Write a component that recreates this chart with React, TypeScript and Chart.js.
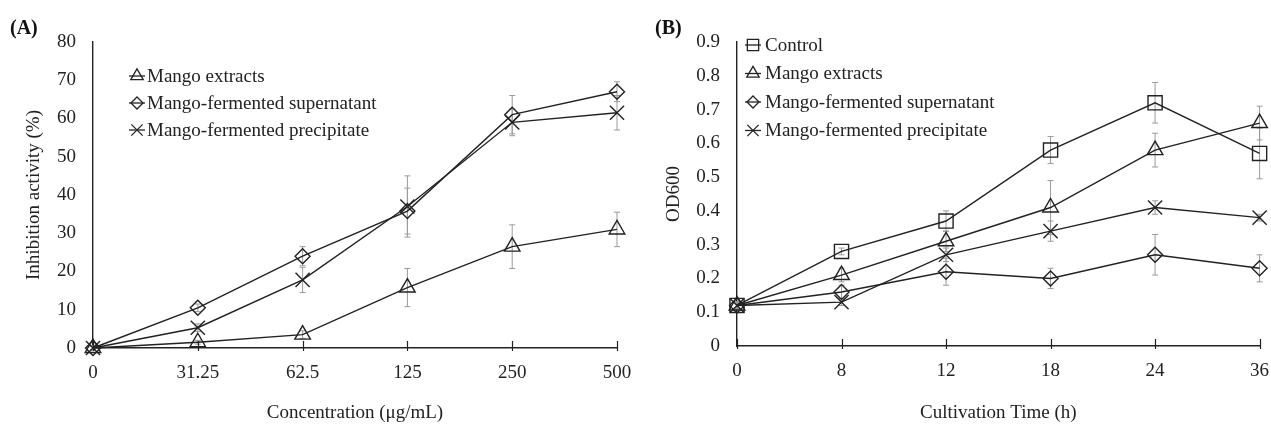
import React, { useEffect, useRef } from 'react';
import { Chart, registerables } from 'chart.js';
import { drawPoint } from 'chart.js/helpers';

Chart.register(...registerables);

// ---------- Data ----------
const concLabels = ['0', '31.25', '62.5', '125', '250', '500'];
const extractsA = [0, 1.5, 3.5, 15.8, 26.5, 31];
const extractsAErr = [0.5, 0.5, 1, 5, 5.7, 4.5];
const supernatantA = [0, 10.5, 24, 35.8, 61, 67];
const supernatantAErr = [0.5, 1, 2.5, 6, 5, 2.6];
const precipitateA = [0, 5.3, 17.8, 37, 59, 61.5];
const precipitateAErr = [0.5, 1, 3.3, 8, 3.5, 4.5];

const timeLabels = ['0', '8', '12', '18', '24', '36'];
const controlB = [0.12, 0.28, 0.37, 0.58, 0.72, 0.57];
const controlBErr = [0.01, 0.01, 0.03, 0.04, 0.06, 0.075];
const extractsB = [0.12, 0.21, 0.31, 0.41, 0.58, 0.66];
const extractsBErr = [0.01, 0.02, 0.03, 0.08, 0.05, 0.05];
const supernatantB = [0.12, 0.16, 0.22, 0.2, 0.27, 0.23];
const supernatantBErr = [0.01, 0.02, 0.04, 0.03, 0.06, 0.04];
const precipitateB = [0.12, 0.13, 0.27, 0.34, 0.41, 0.38];
const precipitateBErr = [0.01, 0.01, 0.02, 0.03, 0.02, 0.01];

// ---------- Styles ----------
const FAMILY = "'Liberation Serif', 'Times New Roman', serif";
const FONT = { family: FAMILY, size: 19 };
const INK = '#222';
const ERR = '#9a9a9a';

const styleFor: Record<string, { pointStyle: string; pointRadius: number }> = {
  Control: { pointStyle: 'rect', pointRadius: 10 },
  'Mango extracts': { pointStyle: 'triangle', pointRadius: 9 },
  'Mango-fermented supernatant': { pointStyle: 'rectRot', pointRadius: 7.5 },
  'Mango-fermented precipitate': { pointStyle: 'crossRot', pointRadius: 10 },
};

function makeDataset(label: string, data: number[], errors: number[]) {
  const s = styleFor[label];
  return {
    label,
    data,
    errors,
    borderColor: INK,
    borderWidth: 1.4,
    backgroundColor: 'rgba(0,0,0,0)',
    pointStyle: s.pointStyle,
    pointRadius: s.pointRadius,
    pointBorderColor: INK,
    pointBackgroundColor: 'rgba(0,0,0,0)',
    pointBorderWidth: 1.4,
    tension: 0,
    clip: false,
    fill: false,
  };
}

// ---------- Plugins ----------
const errorBarPlugin = {
  id: 'errorBars',
  beforeDatasetsDraw(chart: any) {
    const ctx = chart.ctx;
    const ys = chart.scales.y;
    ctx.save();
    ctx.strokeStyle = ERR;
    ctx.lineWidth = 1;
    chart.data.datasets.forEach((ds: any, i: number) => {
      const meta = chart.getDatasetMeta(i);
      (ds.errors || []).forEach((e: number, j: number) => {
        const pt = meta.data[j];
        if (!pt) return;
        const v = ds.data[j];
        const yt = ys.getPixelForValue(v + e);
        const yb = ys.getPixelForValue(v - e);
        ctx.beginPath();
        ctx.moveTo(pt.x, yt);
        ctx.lineTo(pt.x, yb);
        ctx.moveTo(pt.x - 3, yt);
        ctx.lineTo(pt.x + 3, yt);
        ctx.moveTo(pt.x - 3, yb);
        ctx.lineTo(pt.x + 3, yb);
        ctx.stroke();
      });
    });
    ctx.restore();
  },
};

const tickMarkPlugin = {
  id: 'crossTicks',
  afterDraw(chart: any) {
    const ctx = chart.ctx;
    const xs = chart.scales.x;
    const yb = chart.chartArea.bottom;
    ctx.save();
    ctx.strokeStyle = INK;
    ctx.lineWidth = 1.2;
    xs.ticks.forEach((_t: any, i: number) => {
      const x = Math.round(xs.getPixelForTick(i)) + 0.5;
      ctx.beginPath();
      ctx.moveTo(x, yb - 7);
      ctx.lineTo(x, yb + 3);
      ctx.stroke();
    });
    ctx.restore();
  },
};

const innerLegendPlugin = {
  id: 'innerLegend',
  afterDraw(chart: any, _args: any, opts: any) {
    const ctx = chart.ctx;
    ctx.save();
    ctx.font = `${FONT.size}px ${FAMILY}`;
    ctx.textBaseline = 'middle';
    ctx.textAlign = 'left';
    chart.data.datasets.forEach((ds: any, i: number) => {
      const y = opts.y + i * opts.spacing;
      ctx.strokeStyle = INK;
      ctx.lineWidth = 1.3;
      ctx.beginPath();
      ctx.moveTo(opts.markerX - 8, y);
      ctx.lineTo(opts.markerX + 8, y);
      ctx.stroke();
      ctx.fillStyle = 'rgba(0,0,0,0)';
      drawPoint(ctx, {
        pointStyle: ds.pointStyle,
        radius: ds.pointRadius * 0.8,
        rotation: 0,
        borderWidth: 1.3,
      } as any, opts.markerX, y);
      ctx.fillStyle = INK;
      ctx.fillText(ds.label, opts.textX, y + 1);
    });
    ctx.restore();
  },
};

function makeConfig(p: {
  labels: string[];
  datasets: any[];
  yMax: number;
  yStep: number;
  xTitle: string;
  yTitle: string;
  yAxisWidth: number;
  xAxisHeight: number;
  padRight: number;
  padTop: number;
  yTitlePad: number;
  legend: any;
}) {
  return {
    type: 'line',
    data: { labels: p.labels, datasets: p.datasets },
    plugins: [errorBarPlugin, tickMarkPlugin, innerLegendPlugin],
    options: {
      animation: false,
      responsive: false,
      events: [],
      layout: { padding: { top: p.padTop, right: p.padRight, left: 0, bottom: 0 } },
      plugins: {
        legend: { display: false },
        tooltip: { enabled: false },
        innerLegend: p.legend,
      },
      scales: {
        x: {
          type: 'category',
          offset: false,
          grid: { display: false, drawTicks: false },
          border: { display: true, color: INK, width: 1.4 },
          ticks: { color: INK, font: FONT, padding: 14, maxRotation: 0, autoSkip: false },
          title: { display: true, text: p.xTitle, color: INK, font: FONT, padding: { top: 0, bottom: 0 } },
          afterFit: (s: any) => {
            s.height = p.xAxisHeight;
            s.paddingLeft = 0;
            s.paddingRight = 0;
          },
        },
        y: {
          min: 0,
          max: p.yMax,
          grid: { display: false, drawTicks: false },
          border: { display: true, color: INK, width: 1.4 },
          ticks: { stepSize: p.yStep, color: INK, font: FONT, padding: 17 },
          title: { display: true, text: p.yTitle, color: INK, font: FONT, padding: { top: p.yTitlePad, bottom: 0 } },
          afterFit: (s: any) => {
            s.width = p.yAxisWidth;
            s.paddingTop = 0;
            s.paddingBottom = 0;
          },
        },
      },
    },
  };
}

function ChartCanvas({ config, width, height, left }: any) {
  const ref = useRef<HTMLCanvasElement>(null);
  useEffect(() => {
    const chart = new Chart(ref.current as HTMLCanvasElement, config);
    return () => chart.destroy();
  }, []);
  return (
    <canvas
      ref={ref}
      width={width}
      height={height}
      style={{ position: 'absolute', left, top: 0, width, height }}
    />
  );
}

export default function App() {
  const configA = makeConfig({
    labels: concLabels,
    datasets: [
      makeDataset('Mango extracts', extractsA, extractsAErr),
      makeDataset('Mango-fermented supernatant', supernatantA, supernatantAErr),
      makeDataset('Mango-fermented precipitate', precipitateA, precipitateAErr),
    ],
    yMax: 80,
    yStep: 10,
    xTitle: 'Concentration (μg/mL)',
    yTitle: 'Inhibition activity (%)',
    yAxisWidth: 93,
    xAxisHeight: 76,
    padRight: 18,
    padTop: 42,
    yTitlePad: 23,
    legend: { markerX: 137, textX: 147, y: 76, spacing: 27 },
  });
  const configB = makeConfig({
    labels: timeLabels,
    datasets: [
      makeDataset('Control', controlB, controlBErr),
      makeDataset('Mango extracts', extractsB, extractsBErr),
      makeDataset('Mango-fermented supernatant', supernatantB, supernatantBErr),
      makeDataset('Mango-fermented precipitate', precipitateB, precipitateBErr),
    ],
    yMax: 0.9,
    yStep: 0.1,
    xTitle: 'Cultivation Time (h)',
    yTitle: 'OD600',
    yAxisWidth: 102,
    xAxisHeight: 78,
    padRight: 10,
    padTop: 42,
    yTitlePad: 28,
    legend: { markerX: 118, textX: 130, y: 45, spacing: 28.5 },
  });
  const tag: React.CSSProperties = {
    position: 'absolute',
    top: 15,
    font: `bold 20px ${FAMILY}`,
    color: '#111',
    lineHeight: '24px',
  };
  return (
    <div style={{ position: 'fixed', left: 0, top: 0, width: 1271, height: 424, background: '#fff', overflow: 'hidden' }}>
      <ChartCanvas config={configA} width={635} height={424} left={0} />
      <ChartCanvas config={configB} width={636} height={424} left={635} />
      <div style={{ ...tag, left: 10 }}>(A)</div>
      <div style={{ ...tag, left: 655 }}>(B)</div>
    </div>
  );
}
